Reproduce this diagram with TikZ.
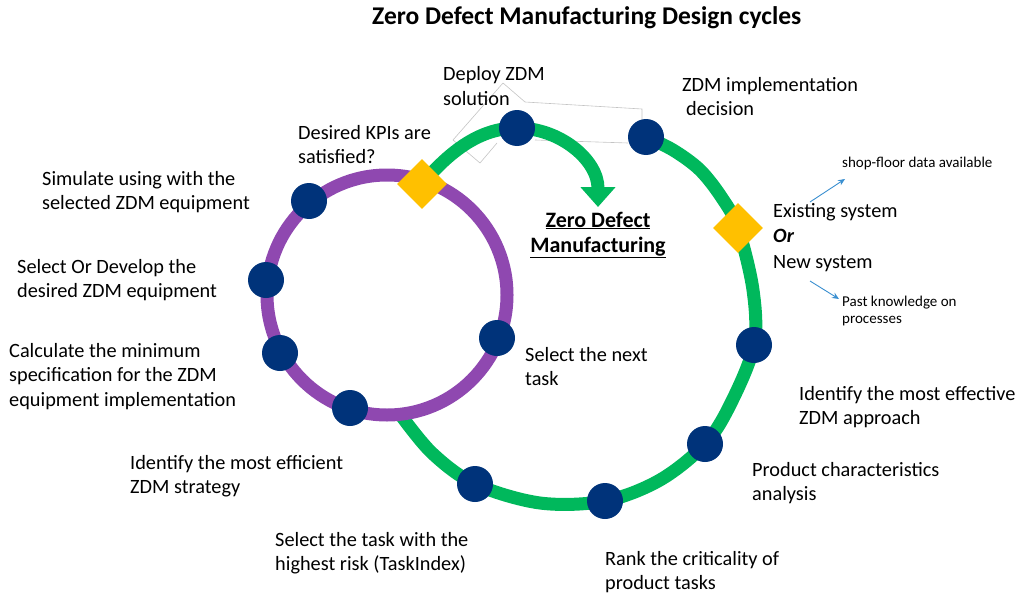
\documentclass[tikz,border=0pt]{standalone}
\usepackage{fontspec}
\setmainfont{Carlito}
\usetikzlibrary{arrows.meta,shapes.geometric}
\definecolor{zgreen}{HTML}{00B85C}
\definecolor{zpurple}{HTML}{8F48B0}
\definecolor{znavy}{HTML}{00337A}
\definecolor{zgold}{HTML}{FFC000}
\definecolor{zblue}{HTML}{3A8FD0}
\definecolor{zgray}{HTML}{C4C4C4}
\begin{document}
\begin{tikzpicture}[x=1pt,y=-1pt,
  flow/.style={draw=zgreen, line width=13pt},
  ring/.style={draw=zpurple, line width=13pt},
  dot/.style={circle, fill=znavy, minimum size=36pt, inner sep=0pt},
  gate/.style={diamond, fill=zgold, minimum size=50pt, inner sep=0pt},
  txt/.style={anchor=base west, align=left, inner sep=0pt, font=\fontsize{20.3}{24.5}\selectfont},
  small/.style={anchor=base west, align=left, inner sep=0pt, font=\fontsize{15}{17}\selectfont},
  hint/.style={draw=zblue, line width=0.9pt, -{Stealth[length=7pt,width=6pt]}},
  trace/.style={draw=zgray, line width=0.6pt}]
\useasboundingbox (0,0) rectangle (1020,594);

% positions of the steps
\coordinate (pKPI) at (422,184);
\coordinate (pSys) at (738,228);
\coordinate (pDeploy) at (517,128);
\coordinate (pDecide) at (646,137);
\coordinate (pApproach) at (754,345);
\coordinate (pProduct) at (705,444);
\coordinate (pRank) at (605,501);
\coordinate (pTask) at (475,484);
\coordinate (pSim) at (309,201);
\coordinate (pSelect) at (266,280);
\coordinate (pCalc) at (280,353);
\coordinate (pStrategy) at (350,408);
\coordinate (pNext) at (497,338);
\coordinate (ringC) at (387,295);

% faint outline behind the deploy step
\draw[trace] (503,83) -- (453,140) -- (480,163) -- (497,143);
\draw[trace] (503,83) -- (525,102) -- (642,109) -- (642,119);
\draw[trace] (535,140) -- (628,143);

% outer (green) design cycle
\draw[flow] plot[smooth, tension=0.55] coordinates {(400,414) (432,453) (pTask) (540,503) (pRank) (660,480) (pProduct) (731,403) (pApproach) (753,290) (pSys) (722,198) (700,170) (673,150) (pDecide)};
\draw[flow, -{Triangle[length=20pt,width=34pt]}] (pKPI) .. controls (455,145) and (485,128) .. (pDeploy) .. controls (560,128) and (598,160) .. (598,207);

% inner (purple) design cycle
\draw[ring] (ringC) circle[radius=120];

% step markers
\node[dot] (deploy) at (pDeploy) {};
\node[dot] (decide) at (pDecide) {};
\node[dot] (approach) at (pApproach) {};
\node[dot] (product) at (pProduct) {};
\node[dot] (rank) at (pRank) {};
\node[dot] (task) at (pTask) {};
\node[dot] (sim) at (pSim) {};
\node[dot] (select) at (pSelect) {};
\node[dot] (calc) at (pCalc) {};
\node[dot] (strategy) at (pStrategy) {};
\node[dot] (next) at (pNext) {};
\node[gate] (kpi) at (pKPI) {};
\node[gate] (sys) at (pSys) {};

% labels (base anchor = baseline of the last line)
\node[anchor=base west, inner sep=0pt, font=\fontsize{25.5}{30}\selectfont\bfseries] (title) at (372,25) {Zero Defect Manufacturing Design cycles};
\node[anchor=base, align=center, inner sep=0pt, font=\fontsize{22}{25}\selectfont\bfseries] (zdm) at (598,252) {\underline{Zero Defect}\\\underline{Manufacturing}};
\node[txt] (tDeploy) at (443,105) {Deploy ZDM\\solution};
\node[txt] (tDecide) at (682,115.5) {ZDM implementation\\\hspace*{4pt}decision};
\node[txt] (tKPI) at (298,163.5) {Desired KPIs are\\satisfied?};
\node[txt] (tSim) at (42,209.5) {Simulate using with the\\selected ZDM equipment};
\node[txt] (tSelect) at (17,297.5) {Select Or Develop the\\desired ZDM equipment};
\node[txt] (tCalc) at (9,406) {Calculate the minimum\\specification for the ZDM\\equipment implementation};
\node[txt] (tStrategy) at (130,493.5) {Identify the most efficient\\ZDM strategy};
\node[txt] (tTask) at (275,570.5) {Select the task with the\\highest risk (TaskIndex)};
\node[txt] (tRank) at (605,589.5) {Rank the criticality of\\product tasks};
\node[txt] (tProduct) at (752,500.5) {Product characteristics\\analysis};
\node[txt] (tApproach) at (799,424.5) {Identify the most effective\\ZDM approach};
\node[txt] (tNext) at (525,385.5) {Select the next\\task};
\node[txt, font=\fontsize{20.3}{25.5}\selectfont] (tSys) at (773,268) {Existing system\\\textbf{\textit{Or}}\\New system};
\node[small] (tData) at (842,167) {shop-floor data available};
\node[small] (tPast) at (842,323) {Past knowledge on\\processes};

% hints from the system choice
\coordinate (hA) at (810,202);
\coordinate (hB) at (810,281);
\draw[hint] (hA) -- (845,179);
\draw[hint] (hB) -- (839,299);
\end{tikzpicture}
\end{document}
